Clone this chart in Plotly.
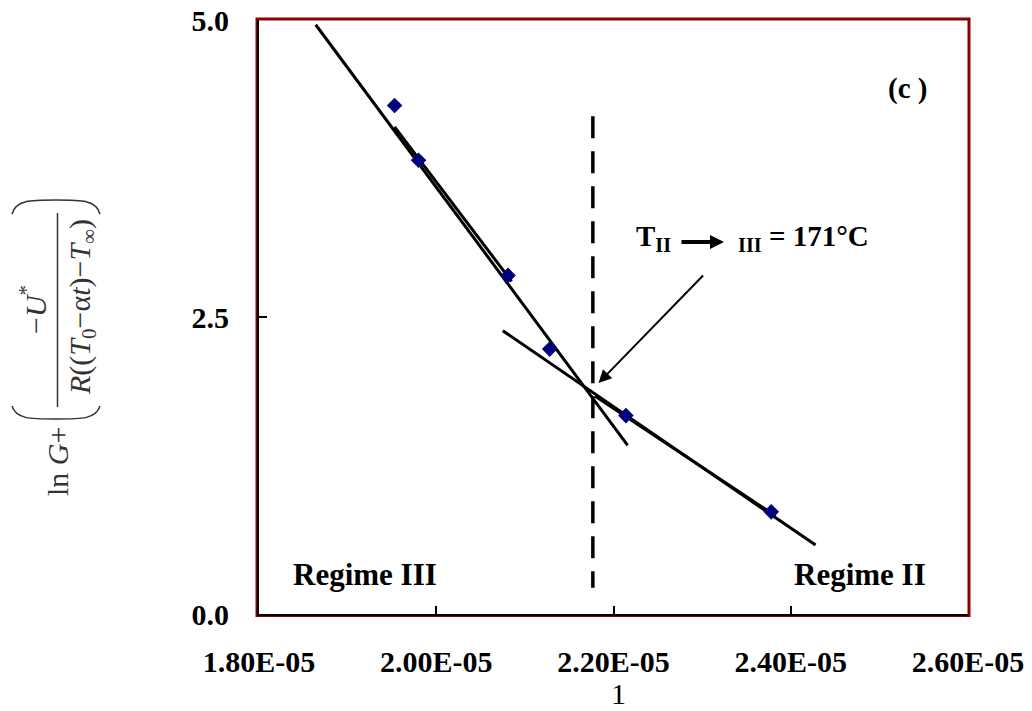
import plotly.graph_objects as go

# ---- data ----
inv_T = [1.953e-05, 1.980e-05, 2.081e-05, 2.128e-05, 2.214e-05, 2.378e-05]
lnG_term = [4.28, 3.82, 2.85, 2.23, 1.67, 0.86]

regime3_fit_x = [1.864e-05, 2.216e-05]
regime3_fit_y = [4.96, 1.42]
regime3_fit2_x = [1.953e-05, 2.085e-05]
regime3_fit2_y = [4.10, 2.80]

regime2_fit_x = [2.075e-05, 2.428e-05]
regime2_fit_y = [2.385, 0.58]
regime2_fit2_x = [2.179e-05, 2.383e-05]
regime2_fit2_y = [1.835, 0.825]

transition_x = [2.1767e-05, 2.1767e-05]
transition_y = [4.19, 0.22]
arrow_head = (2.1831e-05, 1.944)

x_tickvals = [1.8e-05, 2.0e-05, 2.2e-05, 2.4e-05, 2.6e-05]
x_ticktext = ["1.80E-05", "2.00E-05", "2.20E-05", "2.40E-05", "2.60E-05"]
y_tickvals = [0.0, 2.5, 5.0]
y_ticktext = ["0.0", "2.5", "5.0"]

# ---- layout constants ----
W, H = 1032, 711
L, R, T, B = 259, 968, 20, 614
PW, PH = R - L, B - T
FONT = "Liberation Serif"


def px(xp):
    return (xp - L) / PW


def py(yp):
    return (B - yp) / PH


fig = go.Figure()

line_style = dict(color="black", width=3)
fig.add_trace(go.Scatter(x=regime3_fit_x, y=regime3_fit_y, mode="lines", line=line_style, hoverinfo="skip"))
fig.add_trace(go.Scatter(x=regime3_fit2_x, y=regime3_fit2_y, mode="lines", line=line_style, hoverinfo="skip"))
fig.add_trace(go.Scatter(x=regime2_fit_x, y=regime2_fit_y, mode="lines", line=line_style, hoverinfo="skip"))
fig.add_trace(go.Scatter(x=regime2_fit2_x, y=regime2_fit2_y, mode="lines", line=line_style, hoverinfo="skip"))
fig.add_trace(go.Scatter(x=transition_x, y=transition_y, mode="lines",
                         line=dict(color="black", width=3.5, dash="22px,13px"), hoverinfo="skip"))
fig.add_trace(go.Scatter(x=inv_T, y=lnG_term, mode="markers",
                         marker=dict(symbol="diamond", size=12, color="#00007f")))

annotations = []
# arrow pointing to transition
annotations.append(dict(x=arrow_head[0], y=arrow_head[1], xref="x", yref="y",
                        ax=106, ay=-109, axref="pixel", ayref="pixel",
                        text="", showarrow=True, arrowhead=2, arrowsize=1.3,
                        arrowwidth=2, arrowcolor="black"))
# label T_II -> III = 171°C
bold = dict(family=FONT, size=29, color="black", weight="bold")
annotations.append(dict(x=px(634), y=py(238), xref="paper", yref="paper",
                        text="T<sub>II</sub>", showarrow=False, xanchor="left",
                        yanchor="middle", font=bold))
annotations.append(dict(x=px(724), y=py(242), xref="paper", yref="paper",
                        ax=-44, ay=0, axref="pixel", ayref="pixel", text="",
                        showarrow=True, arrowhead=2, arrowsize=0.7, arrowwidth=4,
                        arrowcolor="black"))
annotations.append(dict(x=px(736), y=py(238), xref="paper", yref="paper",
                        text="<sub>III</sub> = 171°C", showarrow=False, xanchor="left",
                        yanchor="middle", font=bold))
annotations.append(dict(x=px(907), y=py(88), xref="paper", yref="paper",
                        text="(c )", showarrow=False, xanchor="center", yanchor="middle",
                        font=dict(family=FONT, size=29, color="black", weight="bold")))
annotations.append(dict(x=px(291), y=py(574), xref="paper", yref="paper",
                        text="Regime III", showarrow=False, xanchor="left", yanchor="middle",
                        font=dict(family=FONT, size=31, color="black", weight="bold")))
annotations.append(dict(x=px(792), y=py(574), xref="paper", yref="paper",
                        text="Regime II", showarrow=False, xanchor="left", yanchor="middle",
                        font=dict(family=FONT, size=31, color="black", weight="bold")))
# x-axis title
annotations.append(dict(x=px(618), y=py(693), xref="paper", yref="paper",
                        text="1", showarrow=False, xanchor="center", yanchor="middle",
                        font=dict(family=FONT, size=30, color="black")))
# y-axis label (equation)
eqfont = dict(family=FONT, size=30, color="#333333")
annotations.append(dict(x=px(57), y=py(462), xref="paper", yref="paper",
                        text="ln <i>G</i>+", showarrow=False, textangle=-90,
                        xanchor="center", yanchor="middle", font=eqfont))
annotations.append(dict(x=px(33), y=py(310), xref="paper", yref="paper",
                        text="−<i>U</i><sup>*</sup>", showarrow=False, textangle=-90,
                        xanchor="center", yanchor="middle", font=eqfont))
annotations.append(dict(x=px(82), y=py(307), xref="paper", yref="paper",
                        text="<i>R</i>((<i>T</i><sub>0</sub>−α<i>t</i>)−<i>T</i><sub>∞</sub>)",
                        showarrow=False, textangle=-90,
                        xanchor="center", yanchor="middle", font=eqfont))

shapes = []
# dark red frame
shapes.append(dict(type="rect", xref="paper", yref="paper",
                   x0=px(257), x1=px(969), y0=py(615.5), y1=py(19),
                   line=dict(color="#8b0000", width=3), layer="below"))
# fraction bar
shapes.append(dict(type="line", xref="paper", yref="paper",
                   x0=px(57.5), x1=px(57.5), y0=py(213), y1=py(407),
                   line=dict(color="#333333", width=1.5)))


# large parentheses of the equation (rotated)
def arc(y_end, y_mid):
    return (f"M {px(12)},{py(y_end)} C {px(16)},{py(y_mid)} {px(30)},{py(y_mid)} {px(56)},{py(y_mid)} "
            f"C {px(82)},{py(y_mid)} {px(96)},{py(y_mid)} {px(100)},{py(y_end)}")


shapes.append(dict(type="path", xref="paper", yref="paper", path=arc(214, 200),
                   line=dict(color="#333333", width=1.5)))
shapes.append(dict(type="path", xref="paper", yref="paper", path=arc(406, 419),
                   line=dict(color="#333333", width=1.5)))

fig.update_layout(
    width=W, height=H,
    margin=dict(l=L, r=W - R, t=T, b=H - B),
    paper_bgcolor="white", plot_bgcolor="white",
    showlegend=False,
    annotations=annotations,
    shapes=shapes,
    xaxis=dict(range=[1.8e-05, 2.6e-05], tickvals=x_tickvals, ticktext=x_ticktext,
               showgrid=False, zeroline=False, showline=True, linecolor="black",
               linewidth=2, ticks="inside", ticklen=8, tickcolor="black", tickwidth=1.5,
               ticklabelstandoff=20, automargin=False,
               tickfont=dict(family=FONT, size=30, color="black", weight="bold")),
    yaxis=dict(range=[0, 5], tickvals=y_tickvals, ticktext=y_ticktext,
               showgrid=False, zeroline=False, showline=True, linecolor="black",
               linewidth=2, ticks="inside", ticklen=8, tickcolor="black", tickwidth=1.5,
               ticklabelstandoff=22, automargin=False,
               tickfont=dict(family=FONT, size=30, color="black", weight="bold")),
)

fig.write_html("out.html")
